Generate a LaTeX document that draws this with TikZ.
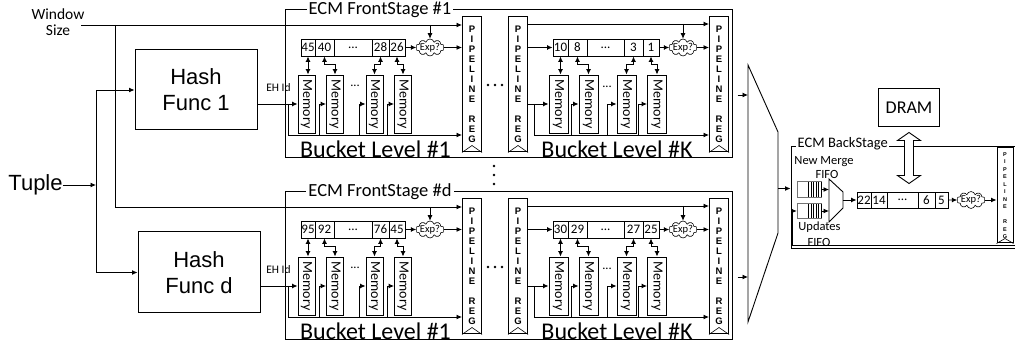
\documentclass[tikz,border=0pt]{standalone}
\usepackage{fontspec}
\setmainfont{Carlito}
\newfontfamily\arialf{Liberation Sans}
\usepackage{graphicx}
\usetikzlibrary{arrows.meta,calc,shapes.symbols}

\tikzset{
 wire/.style={line width=0.9pt},
 ar/.style={wire,-{Latex[length=5.5pt,width=5pt]}},
 dar/.style={wire,{Latex[length=5.5pt,width=5pt]}-{Latex[length=5.5pt,width=5pt]}},
 boxed/.style={draw,line width=1pt},
 hashbox/.style={boxed,minimum width=122pt,minimum height=80pt,inner sep=0,align=center,font=\arialf\fontsize{22}{26}\selectfont},
 cell/.style={draw,line width=0.9pt,minimum height=17pt,inner sep=0,font=\fontsize{13}{13}\selectfont},
 mem/.style={draw,line width=0.9pt,minimum height=58pt,inner sep=0,font=\fontsize{14}{14}\selectfont},
 preg/.style={draw,line width=1pt,minimum width=19pt,minimum height=135pt,inner sep=0,align=center,font=\arialf\bfseries\fontsize{9.5}{10}\selectfont},
 expc/.style={cloud,draw,line width=0.6pt,cloud puffs=10,aspect=2.4,inner xsep=-1.5pt,inner ysep=-0.5pt,font=\fontsize{10.5}{10.5}\selectfont},
 stage/.style={draw,line width=1pt,minimum width=447pt,minimum height=148pt,inner sep=0},
 title/.style={fill=white,inner sep=2pt,font=\fontsize{18.5}{18.5}\selectfont},
 bucket/.style={inner sep=0,font=\fontsize{24}{24}\selectfont},
 small/.style={inner sep=0,font=\fontsize{12.5}{12.5}\selectfont},
 dotc/.style={fill=black,circle,inner sep=0,minimum size=2.8pt},
}

\newcommand\regclock[2]{\draw[line width=0.6pt] (#1.south west) -- ($(#1.south)+(0,-#2)$) -- (#1.south east);}
\newcommand\pregtext{P\\I\\P\\E\\L\\I\\N\\E\\[10pt]R\\E\\G}

\newcommand\FrontStage[3]{%
 \node[stage] (#1-box) at (508.5,#2+74) {};
 \node[title] (#1-title) at (380,#2) {#3};
 \coordinate (#1-top) at (0,#2+15);
 \coordinate (#1-ktop) at (0,#2+14);
 \coordinate (#1-bus) at (0,#2+125);
 \node[preg] (#1-P1) at (472,#2+74.5) {\pregtext};
 \node[preg] (#1-PL) at (518,#2+74.5) {\pregtext};
 \node[preg] (#1-PR) at (719,#2+74.5) {\pregtext};
 \regclock{#1-P1}{7}\regclock{#1-PL}{7}\regclock{#1-PR}{7}
 \node[dotc] (#1-d1) at (488,#2+75) {};
 \node[dotc] (#1-d2) at (495,#2+75) {};
 \node[dotc] (#1-d3) at (502,#2+75) {};
}

\newcommand\LevelA[6]{%
 \node[cell,minimum width=14pt] (#1-a1) at (308,#2+37.5) {#3};
 \node[cell,minimum width=19pt] (#1-a2) at (324.5,#2+37.5) {#4};
 \node[cell,minimum width=38pt] (#1-a3) at (353,#2+37.5) {...};
 \node[cell,minimum width=17pt] (#1-a4) at (380.5,#2+37.5) {#5};
 \node[cell,minimum width=16pt] (#1-a5) at (397,#2+37.5) {#6};
 \foreach \i/\x in {1/306.5,2/335,3/374.5,4/403}
   \node[mem,minimum width=17pt] (#1-am\i) at (\x,#2+94) {\rotatebox{-90}{Memory}};
 \node[expc] (#1-ae) at (430,#2+37.5) {Exp?};
 \draw[dar] (#1-a1.south) -- (#1-a1.south |- #1-am1.north);
 \draw[dar] (#1-a2.south) |- ($(#1-am2.north)+(0,-10)$) -- (#1-am2.north);
 \draw[dar] (#1-a4.south) |- ($(#1-am3.north)+(0,-10)$) -- (#1-am3.north);
 \draw[dar] (#1-a5.south) |- ($(#1-am4.north)+(0,-10)$) -- (#1-am4.north);
 \draw[ar] (#1-a5.east) -- (#1-ae.west);
 \draw[ar] (#1-ae.east) -- (#1-ae.east -| #1-P1.west);
 \draw[ar] (#1-ae.north |- #1-top) -- (#1-ae.north);
 \draw[ar] (288,#2+94) |- (#1-P1.west |- #1-bus);
 \draw[ar] (319,#2+125) |- (#1-am2.west);
 \draw[ar] (359,#2+125) |- (#1-am3.west);
 \draw[ar] (387,#2+125) |- (#1-am4.west);
 \node[small] (#1-adots) at (355,#2+76) {...};
 \node[bucket] (#1-alab) at (375.5,#2+139) {Bucket Level \#1};
}

\newcommand\LevelK[6]{%
 \node[cell,minimum width=15pt] (#1-k1) at (560.5,#2+37.5) {#3};
 \node[cell,minimum width=19pt] (#1-k2) at (577.5,#2+37.5) {#4};
 \node[cell,minimum width=37pt] (#1-k3) at (605.5,#2+37.5) {...};
 \node[cell,minimum width=19pt] (#1-k4) at (633.5,#2+37.5) {#5};
 \node[cell,minimum width=16pt] (#1-k5) at (651,#2+37.5) {#6};
 \foreach \i/\x in {1/558.5,2/588.5,3/626.5,4/657}
   \node[mem,minimum width=19pt] (#1-km\i) at (\x,#2+94) {\rotatebox{-90}{Memory}};
 \node[expc] (#1-ke) at (683,#2+37.5) {Exp?};
 \draw[ar] (#1-PL.east |- #1-ktop) -- (#1-PR.west |- #1-ktop);
 \draw[ar] (#1-ke.north |- #1-ktop) -- (#1-ke.north);
 \draw[ar] (#1-PL.east |- #1-k1.west) -- (#1-k1.west);
 \draw[dar] (#1-k1.south) -- (#1-k1.south |- #1-km1.north);
 \draw[dar] (#1-k2.south) |- ($(#1-km2.north)+(0,-10)$) -- (#1-km2.north);
 \draw[dar] (#1-k4.south) |- ($(#1-km3.north)+(0,-10)$) -- (#1-km3.north);
 \draw[dar] (#1-k5.south) |- ($(#1-km4.north)+(0,-10)$) -- (#1-km4.north);
 \draw[ar] (#1-k5.east) -- (#1-ke.west);
 \draw[ar] (#1-ke.east) -- (#1-ke.east -| #1-PR.west);
 \draw[ar] (#1-PL.east |- #1-km1.west) -- (#1-km1.west);
 \draw[ar] (534,#2+94) |- (#1-PR.west |- #1-bus);
 \draw[ar] (571,#2+125) |- (#1-km2.west);
 \draw[ar] (607,#2+125) |- (#1-km3.west);
 \draw[ar] (638,#2+125) |- (#1-km4.west);
 \node[small] (#1-kdots) at (607,#2+77) {...};
 \node[bucket] (#1-klab) at (617,#2+139) {Bucket Level \#K};
}

\begin{document}
\begin{tikzpicture}[x=1pt,y=-1pt]
\clip (0,0) rectangle (1015,347);
\fill[white] (0,0) rectangle (1015,347);

% left inputs
\node[inner sep=0,align=center,font=\fontsize{15.5}{16}\selectfont] (ws) at (58,22) {Window\\Size};
\node[inner sep=0,font=\arialf\fontsize{22}{22}\selectfont] (tuple) at (35.5,185) {Tuple};
\node[hashbox] (h1) at (196,90) {Hash\\Func 1};
\node[hashbox,minimum height=81pt] (hd) at (199,272.5) {Hash\\Func d};

% front stages
\FrontStage{a}{10}{ECM FrontStage \#1}
\LevelA{a}{10}{45}{40}{28}{26}
\LevelK{a}{10}{10}{8}{3}{1}
\FrontStage{d}{192}{ECM FrontStage \#d}
\LevelA{d}{192}{95}{92}{76}{45}
\LevelK{d}{192}{30}{29}{27}{25}

\node[dotc] (v1) at (494,166) {};
\node[dotc] (v2) at (494,175) {};
\node[dotc] (v3) at (494,184) {};

% window size wiring
\coordinate (wsrc) at (81,25);
\coordinate (wdrop) at (115,25);
\draw[ar] (wsrc) -- (a-P1.west |- a-top);
\draw[ar] (wdrop) |- (d-P1.west |- d-top);

% tuple wiring
\coordinate (tj) at (96,185);
\draw[ar] (tuple.east) -- (tj);
\draw[ar] (tj) |- (h1.west);
\draw[ar] (tj) |- (hd.west);

% EH Id
\draw[ar] (h1.east |- a-am1.west) -- (a-am1.west);
\draw[ar] (hd.east |- d-am1.west) -- (d-am1.west);
\node[inner sep=0,font=\fontsize{11.5}{11.5}\selectfont] (eh1) at (278.5,88) {EH Id};
\node[inner sep=0,font=\fontsize{11.5}{11.5}\selectfont] (ehd) at (278.5,270) {EH Id};

% mux
\coordinate (mxa) at (748,65);
\coordinate (mxb) at (778,132);
\coordinate (mxc) at (778,233);
\coordinate (mxd) at (748,322);
\draw[line width=0.9pt] (mxa) -- (mxb) -- (mxc) -- (mxd) -- cycle;
\coordinate (mi1) at (748,95);
\coordinate (mi2) at (748,277);
\draw[ar] (a-box.east |- mi1) ++(5,0) -- (mi1);
\draw[ar] (d-box.east |- mi2) ++(5,0) -- (mi2);

% back stage
\node[draw,line width=1pt,minimum width=240pt,minimum height=102pt,inner sep=0] (bs) at (911,198) {};
\node[fill=white,inner sep=1.5pt,anchor=west,font=\fontsize{14.5}{14.5}\selectfont] (bst) at (796,144) {ECM BackStage};
\coordinate (mo) at (778,188.5);
\draw[ar] (mo) -- (mo -| bs.west);

\node[boxed,minimum width=61pt,minimum height=38pt,inner sep=0,font=\fontsize{18}{18}\selectfont] (dram) at (909,108) {DRAM};

\node[minimum width=24pt,minimum height=15pt,inner sep=0] (fifo1) at (809,189.5) {};
\node[minimum width=24pt,minimum height=14pt,inner sep=0] (fifo2) at (809,211) {};
\foreach \f in {fifo1,fifo2}{
  \draw[line width=0.6pt,black!55] (\f.north west) rectangle (\f.south east);
  \foreach \dx in {0,2.6,5.2,7.8,10.4,13}
    \draw[line width=0.6pt] ($(\f.north east)+(-\dx,0)$) -- ($(\f.south east)+(-\dx,0)$);
}
\node[small] (nm1) at (824,162) {New Merge};
\node[small] (nm2) at (827,174) {FIFO};
\node[small] (up1) at (819.5,227) {Updates};
\node[small] (up2) at (819,242) {FIFO};

\coordinate (m2a) at (829,179);
\coordinate (m2b) at (843,192);
\coordinate (m2c) at (843,208);
\coordinate (m2d) at (829,222);
\draw[line width=0.9pt] (m2a) -- (m2b) -- (m2c) -- (m2d) -- cycle;
\draw[ar] (fifo1.east) -- (fifo1.east -| m2a);
\draw[ar] (fifo2.east) -- (fifo2.east -| m2a);
\coordinate (m2o) at (843,200);

\node[cell,minimum height=16pt,minimum width=14pt] (b1) at (864,200) {22};
\node[cell,minimum height=16pt,minimum width=16pt] (b2) at (879,200) {14};
\node[cell,minimum height=16pt,minimum width=31pt] (b3) at (902.5,200) {...};
\node[cell,minimum height=16pt,minimum width=17pt] (b4) at (926.5,200) {6};
\node[cell,minimum height=16pt,minimum width=13pt] (b5) at (941.5,200) {5};
\draw[ar] (m2o) -- (b1.west);
\node[expc] (be) at (971,200) {Exp?};
\node[preg,minimum width=16pt,minimum height=95pt,font=\arialf\bfseries\fontsize{5.5}{7.5}\selectfont] (bp) at (1005,195.5) {P\\I\\P\\E\\L\\I\\N\\E\\[7.5pt]R\\E\\G};
\regclock{bp}{5}
\draw[ar] (b5.east) -- (be.west);
\draw[ar] (be.east) -- (be.east -| bp.west);

\coordinate (fb) at (1031,245);
\draw[ar] (fb) -| ($(fifo2.west)+(-4,0)$) -- (fifo2.west);

% DRAM double arrow
\coordinate (da) at ($(dram.south)+(0,5)$);
\draw[line width=0.9pt,fill=white] (da) -- ++(11.5,8) -- ++(-7,0) -- ++(0,35) -- ++(7,0) -- ++(-11.5,8) -- ++(-11.5,-8) -- ++(7,0) -- ++(0,-35) -- ++(-7,0) -- cycle;
\end{tikzpicture}
\end{document}
